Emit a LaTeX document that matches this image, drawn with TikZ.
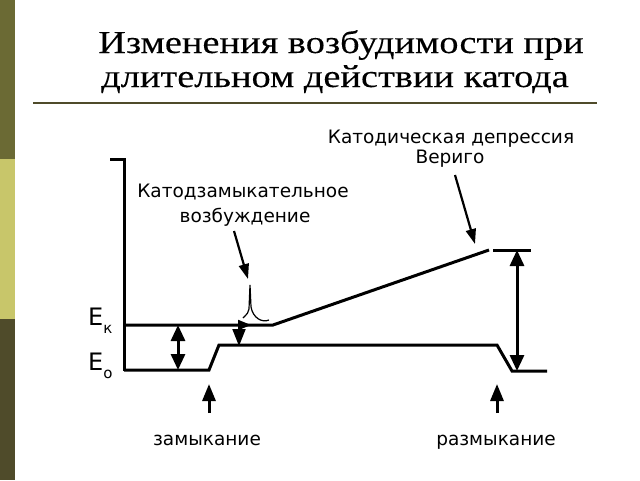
\documentclass[tikz,border=0pt]{standalone}
\usepackage{fontspec}
\setmainfont{Liberation Serif}
\newfontfamily\titlefont[FakeStretch=1.2,FakeBold=0.2]{Liberation Serif}
\newfontfamily\labfont{DejaVu Sans}
\usetikzlibrary{arrows.meta}
\definecolor{bartop}{HTML}{6B6A34}
\definecolor{barmid}{HTML}{C8C66A}
\definecolor{barbot}{HTML}{4F4B2A}
\definecolor{rulecol}{HTML}{4F4B2A}
\tikzset{
  curve/.style={line width=3pt, line join=miter},
  dimarrow/.style={line width=3pt, {Triangle[length=16pt,width=14pt]}-{Triangle[length=16pt,width=14pt]}},
  ptr/.style={line width=2.2pt, -{Triangle[length=15pt,width=10pt]}},
  uparrow/.style={line width=3pt, -{Triangle[length=17pt,width=13pt]}},
  lab/.style={font=\labfont\fontsize{18.5}{22}\selectfont, align=center, inner sep=0pt},
  title/.style={font=\titlefont\fontsize{32}{34}\selectfont, align=center, inner sep=0pt},
}
\begin{document}
\begin{tikzpicture}[x=1pt,y=-1pt]
\useasboundingbox (0,0) rectangle (640,480);
\fill[white] (0,0) rectangle (640,480);
% left bar
\fill[bartop] (0,0) rectangle (15,159);
\fill[barmid] (0,159) rectangle (15,319);
\fill[barbot] (0,319) rectangle (15,480);
% title
\node[title, anchor=base] (t1) at (341,53) {Изменения возбудимости при};
\node[title, anchor=base] (t2) at (335,87) {длительном действии катода};
\coordinate (rl) at (33,103);
\coordinate (rr) at (597,103);
\draw[rulecol, line width=1.5pt] (rl) -- (rr);
% axis
\coordinate (ttop) at (110,159);
\coordinate (atop) at (124,159);
\coordinate (abot) at (124,371);
\draw[curve] (ttop) -- (atop) -- (abot);
% Ek line and rising line
\coordinate (ek0) at (124,325);
\coordinate (ek1) at (273,325);
\coordinate (ek2) at (489,250);
\draw[curve] (ek0) -- (ek1) -- (ek2);
\coordinate (vr0) at (493,250);
\coordinate (vr1) at (531,250);
\draw[curve] (vr0) -- (vr1);
% E0 line
\coordinate (e0) at (124,370);
\coordinate (e1) at (209,370);
\coordinate (e2) at (219,345);
\coordinate (e3) at (497,345);
\coordinate (e4) at (512,371);
\coordinate (e5) at (547,371);
\draw[curve] (e0) -- (e1) -- (e2) -- (e3) -- (e4) -- (e5);
% dimension arrows
\coordinate (d1a) at (178,325);
\coordinate (d1b) at (178,370);
\draw[dimarrow] (d1a) -- (d1b);
\coordinate (d2a) at (517,250);
\coordinate (d2b) at (517,371);
\draw[dimarrow] (d2a) -- (d2b);
% small arrows at Ek
\coordinate (sa) at (239,326);
\coordinate (sb) at (239,346);
\draw[line width=2pt, -{Triangle[length=17pt,width=13pt]}] (sa) -- (sb);
\coordinate (ra) at (236,325);
\coordinate (rb) at (251,325);
\draw[line width=2pt, -{Triangle[length=13pt,width=10pt]}] (ra) -- (rb);
% spike
\coordinate (sp0) at (243,318);
\coordinate (sp1) at (249,309);
\coordinate (spk) at (250,285);
\coordinate (sp2) at (251,307);
\coordinate (sp3) at (269,320);
\draw[line width=1.2pt] (sp0) .. controls (247,314) and (249,312) .. (sp1) -- (spk) -- (sp2) .. controls (253,318) and (262,323) .. (sp3);
% labels
\node[lab, anchor=base] (l1) at (243,197) {Катодзамыкательное};
\node[lab, anchor=base] (l2) at (245,222) {возбуждение};
\node[lab, anchor=base] (l3) at (451,143) {Катодическая депрессия};
\node[lab, anchor=base] (l4) at (450,163) {Вериго};
\coordinate (p1a) at (234,231);
\coordinate (p1b) at (248,279);
\draw[ptr] (p1a) -- (p1b);
\coordinate (p2a) at (455,175);
\coordinate (p2b) at (475,244);
\draw[ptr] (p2a) -- (p2b);
% E labels
\node[inner sep=0pt, anchor=base west, font=\labfont\fontsize{24}{24}\selectfont] (ek) at (88,325) {E\raisebox{-8pt}{\fontsize{15}{15}\selectfont к}};
\node[inner sep=0pt, anchor=base west, font=\labfont\fontsize{24}{24}\selectfont] (eo) at (88,370) {E\raisebox{-8pt}{\fontsize{15}{15}\selectfont о}};
% bottom
\coordinate (u1a) at (209,413);
\coordinate (u1b) at (209,384);
\draw[uparrow] (u1a) -- (u1b);
\coordinate (u2a) at (497,413);
\coordinate (u2b) at (497,384);
\draw[uparrow] (u2a) -- (u2b);
\node[lab, anchor=base] (b1) at (207,445) {замыкание};
\node[lab, anchor=base] (b2) at (496,445) {размыкание};
\end{tikzpicture}
\end{document}
